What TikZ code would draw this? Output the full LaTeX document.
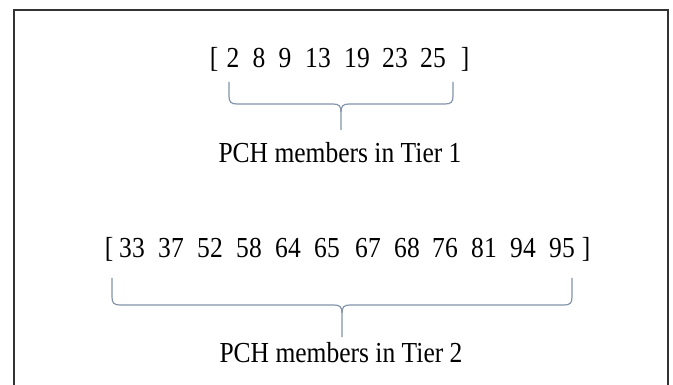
\documentclass[tikz,border=0pt]{standalone}
\usepackage{fontspec}
\setmainfont{Liberation Serif}[FakeStretch=0.88]
\begin{document}
\begin{tikzpicture}[x=1pt,y=-1pt,
  tok/.style={anchor=base,inner sep=0pt,font=\fontsize{29}{32}\selectfont},
  lbl/.style={anchor=base,inner sep=0pt,font=\fontsize{29}{32}\selectfont},
  brace/.style={draw=bracecol,line width=1.2pt,line join=round},
  frame/.style={draw=black!80,line width=1.5pt}]
\definecolor{bracecol}{HTML}{8495AA}
\useasboundingbox (0,0) rectangle (673,385);
\fill[white] (0,0) rectangle (673,385);
% frame (open at the bottom)
\coordinate (fbl) at (14,386);
\coordinate (ftl) at (14,10);
\coordinate (ftr) at (668,10);
\coordinate (fbr) at (668,386);
\draw[frame] (fbl) -- (ftl) -- (ftr) -- (fbr);
% row 1
\node[tok] (a0) at (214,68) {[};
\node[tok] (a1) at (233,68) {2};
\node[tok] (a2) at (259,68) {8};
\node[tok] (a3) at (285,68) {9};
\node[tok] (a4) at (318,68) {13};
\node[tok] (a5) at (357,68) {19};
\node[tok] (a6) at (395,68) {23};
\node[tok] (a7) at (433,68) {25};
\node[tok] (a8) at (465,68) {]};
% brace 1
\coordinate (b1l) at (229,82);
\coordinate (b1r) at (453,82);
\coordinate (b1t) at (341,130);
\draw[brace] (b1l) -- (229,96) .. controls (229,102) and (231,104) .. (237,104) -- (333,104) .. controls (339,104) and (341,106) .. (341,112) -- (b1t);
\draw[brace] (b1r) -- (453,96) .. controls (453,102) and (451,104) .. (445,104) -- (349,104) .. controls (343,104) and (341,106) .. (341,112);
\node[lbl] (l1) at (340,163) {PCH members in Tier 1};
% row 2
\node[tok] (c0) at (109,258) {[};
\node[tok] (c1) at (132,258) {33};
\node[tok] (c2) at (171,258) {37};
\node[tok] (c3) at (210,258) {52};
\node[tok] (c4) at (249,258) {58};
\node[tok] (c5) at (288,258) {64};
\node[tok] (c6) at (327,258) {65};
\node[tok] (c7) at (368,258) {67};
\node[tok] (c8) at (407,258) {68};
\node[tok] (c9) at (445,258) {76};
\node[tok] (c10) at (484,258) {81};
\node[tok] (c11) at (523,258) {94};
\node[tok] (c12) at (562,258) {95};
\node[tok] (c13) at (586,258) {]};
% brace 2
\coordinate (b2l) at (112,278);
\coordinate (b2r) at (572,278);
\coordinate (b2t) at (342,337);
\draw[brace] (b2l) -- (112,297) .. controls (112,303) and (114,305) .. (120,305) -- (334,305) .. controls (340,305) and (342,307) .. (342,313) -- (b2t);
\draw[brace] (b2r) -- (572,297) .. controls (572,303) and (570,305) .. (564,305) -- (350,305) .. controls (344,305) and (342,307) .. (342,313);
\node[lbl] (l2) at (341,362) {PCH members in Tier 2};
\end{tikzpicture}
\end{document}
